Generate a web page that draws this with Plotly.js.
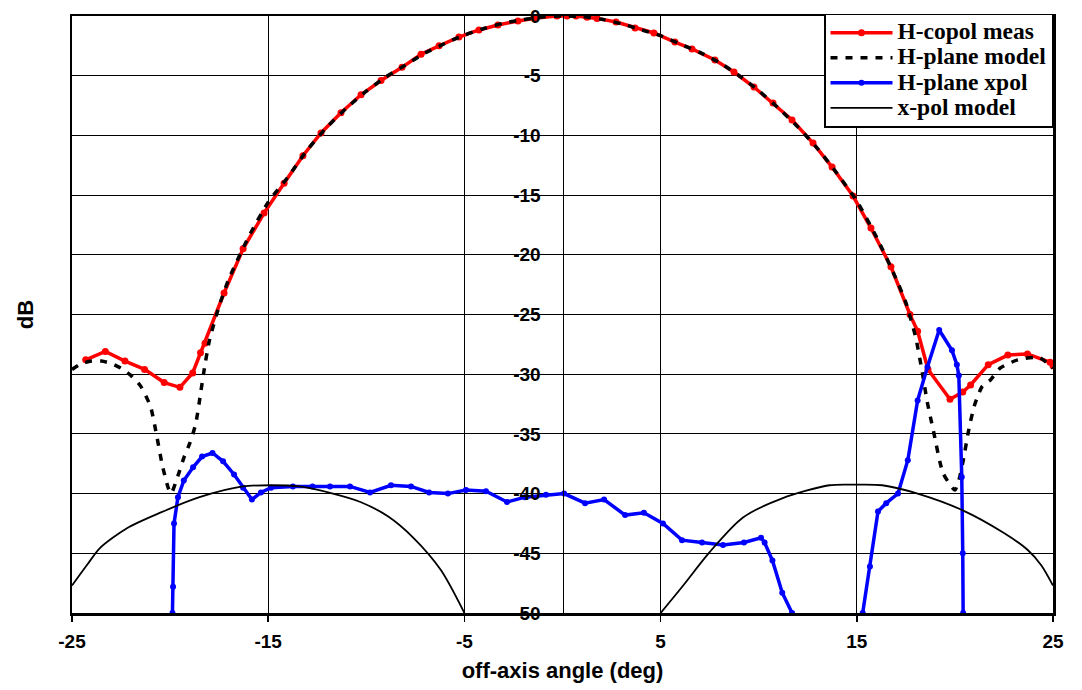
<!DOCTYPE html>
<html>
<head>
<meta charset="utf-8">
<script src="https://cdn.plot.ly/plotly-3.0.1.min.js"></script>
<style>html,body{margin:0;padding:0;background:#fff;}#chart{width:1082px;height:690px;}</style>
</head>
<body>
<div id="chart"></div>
<script>
// H-copol meas (red, with markers)
const copolX = [-24.3,-23.3,-22.3,-21.3,-20.3,-19.5,-18.85,-18.45,-18.22,-17.25,-16.28,-15.21,-14.19,-13.23,-12.31,-11.29,-10.27,-9.25,-8.18,-7.21,-6.29,-5.28,-4.26,-3.29,-2.27,-1.35,-0.28,0.23,0.69,1.25,1.76,2.73,3.70,4.66,5.73,6.60,7.77,8.74,9.76,10.73,11.70,12.77,13.74,14.81,15.72,16.74,17.71,18.1,18.63,19.75,20.4,20.8,21.7,22.7,23.7,24.85,25];
const copolY = [-28.8,-28.1,-28.9,-29.6,-30.7,-31.1,-29.9,-28.2,-27.4,-23.2,-19.5,-16.5,-14.0,-11.7,-9.8,-8.1,-6.6,-5.4,-4.3,-3.2,-2.5,-1.76,-1.17,-0.75,-0.42,-0.17,0,0,0,-0.1,-0.2,-0.5,-1.0,-1.42,-2.18,-2.76,-3.68,-4.69,-5.95,-7.29,-8.71,-10.64,-12.65,-15.08,-17.76,-21.0,-25.0,-26.4,-29.6,-32.1,-31.5,-30.9,-29.2,-28.4,-28.3,-29.0,-29.3];

// H-plane model (black dashed)
const modelX = [-25,-24.5,-24,-23.5,-23,-22.5,-22,-21.5,-21,-20.7,-20.4,-20.1,-19.95,-19.6,-19.3,-19.0,-18.7,-18.5,-18.3,-18,-17.5,-17,-16,-15,-14,-13,-12,-11,-10,-9,-8,-7,-6,-5,-4,-3,-2,-1,0,1,2,3,4,5,6,7,8,9,10,11,12,13,14,15,16,17,17.5,18,18.3,18.6,18.9,19.4,20.0,20.2,20.45,20.7,21.0,21.4,21.8,22.3,23.2,24.3,25];
const modelY = [-29.6,-29.1,-28.9,-28.9,-29.1,-29.5,-30.1,-31.0,-32.7,-35.0,-37.6,-39.5,-40.0,-38.5,-37.0,-35.8,-34.2,-32.2,-30.0,-27.2,-24.3,-22.0,-18.5,-15.6,-13.5,-11.2,-9.3,-7.7,-6.3,-5.1,-4.1,-3.1,-2.3,-1.6,-1.05,-0.6,-0.3,-0.08,0,-0.05,-0.28,-0.65,-1.15,-1.65,-2.35,-3.05,-3.9,-5.0,-6.25,-7.7,-9.3,-11.1,-13.2,-15.5,-18.5,-22.0,-24.0,-26.9,-29.5,-32.4,-34.7,-38.3,-39.7,-38.9,-37.0,-34.7,-32.6,-31.0,-30.5,-29.5,-28.8,-28.6,-29.5];

// H-plane xpol (blue, with markers)
const xpolX = [-19.88,-19.85,-19.8,-19.6,-19.3,-18.83,-18.37,-17.84,-17.3,-16.74,-16.28,-15.83,-15.37,-14.86,-13.74,-12.74,-11.85,-10.83,-9.81,-8.74,-7.72,-6.80,-5.84,-4.92,-3.90,-2.83,-1.91,-0.84,0.08,1.15,2.12,3.19,4.15,5.12,6.09,7.11,8.18,9.25,10.12,10.3,10.7,11.2,11.7,null,15.3,15.67,16.08,16.5,17.1,17.6,18.1,18.6,19.2,19.85,20.1,20.2,20.35,20.4,20.42];
const xpolY = [-50,-47.8,-42.5,-40.3,-38.9,-37.8,-36.9,-36.6,-37.3,-38.4,-39.5,-40.5,-39.9,-39.5,-39.4,-39.4,-39.4,-39.4,-39.9,-39.3,-39.4,-39.9,-40.0,-39.7,-39.8,-40.7,-40.3,-40.1,-40.0,-40.8,-40.5,-41.8,-41.6,-42.5,-43.9,-44.1,-44.3,-44.1,-43.7,-44.1,-45.6,-48.3,-50,null,-50,-46.1,-41.5,-40.8,-40.0,-37.2,-32.2,-29.4,-26.3,-28.0,-29.2,-30.1,-38.6,-45.0,-50];

// x-pol model (thin black)
const xpmX = [-25,-24.2,-23.6,-22.2,-20.5,-18.5,-16.3,-14.9,-13.4,-11.7,-10.3,-8.9,-7.6,-6.2,-5.0,null,5.0,6.1,7.5,9.2,11.2,13.6,14.9,16.3,18.1,20.4,22.5,23.7,24.4,25];
const xpmY = [-47.7,-45.9,-44.6,-42.9,-41.6,-40.3,-39.4,-39.3,-39.4,-40.0,-40.7,-41.9,-43.7,-46.4,-50,null,-50,-47.8,-44.9,-42.0,-40.4,-39.3,-39.25,-39.3,-40.0,-41.4,-43.3,-44.7,-46.0,-47.7];

const seriesNames = ['H-copol meas', 'H-plane model', 'H-plane xpol', 'x-pol model'];
const xTicks = [-25,-15,-5,5,15,25];
const yTicks = [0,-5,-10,-15,-20,-25,-30,-35,-40,-45,-50];

const big = s => '<span style="font-size:23.5px">' + s + '</span>';

const traces = [
  {x: copolX, y: copolY, name: big(seriesNames[0]), type: 'scatter', mode: 'lines+markers',
   line: {color: '#ff0000', width: 3.5}, marker: {color: '#ff0000', size: 7}},
  {x: modelX, y: modelY, name: big(seriesNames[1]), type: 'scatter', mode: 'lines',
   line: {color: '#000000', width: 3.5, dash: '7px,8px', shape: 'spline', smoothing: 0.6}},
  {x: xpolX, y: xpolY, name: big(seriesNames[2]), type: 'scatter', mode: 'lines+markers', connectgaps: false,
   line: {color: '#0000ff', width: 3.5}, marker: {color: '#0000ff', size: 6}},
  {x: xpmX, y: xpmY, name: big(seriesNames[3]), type: 'scatter', mode: 'lines', connectgaps: false, yaxis: 'y2',
   line: {color: '#000000', width: 1.8, shape: 'spline', smoothing: 0.8}}
];

const tickFont = {family: 'Liberation Sans, Arial, sans-serif', size: 19, color: '#000', weight: 'bold'};
const titleFont = {family: 'Liberation Sans, Arial, sans-serif', size: 22, color: '#000', weight: 'bold'};

const layout = {
  width: 1082, height: 690,
  margin: {l: 72, r: 29, t: 16, b: 77},
  paper_bgcolor: '#ffffff', plot_bgcolor: '#ffffff',
  showlegend: true,
  legend: {x: 1, xanchor: 'right', y: 1.004, yanchor: 'top', bgcolor: '#ffffff',
    bordercolor: '#000', borderwidth: 1.5, itemwidth: 62, tracegroupgap: 0,
    font: {family: 'Liberation Serif, Times New Roman, serif', size: 17, color: '#000', weight: 'bold'}},
  xaxis: {range: [-25, 25], tickvals: xTicks, ticktext: xTicks.map(String), showgrid: true, gridcolor: '#000', gridwidth: 1,
    zeroline: false, showline: true, mirror: true, linecolor: '#000', linewidth: 2.5,
    ticks: 'outside', ticklen: 6, tickwidth: 1.5, tickcolor: '#000', tickfont: tickFont, ticklabelstandoff: 4,
    title: {text: 'off-axis angle (deg)', font: titleFont, standoff: 12},
    automargin: false},
  yaxis: {range: [-50, 0], dtick: 5, showgrid: true, gridcolor: '#000', gridwidth: 1,
    zeroline: false, showline: true, mirror: true, linecolor: '#000', linewidth: 2.5,
    showticklabels: false, ticks: '',
    title: {text: 'dB', font: titleFont, standoff: 30},
    automargin: false},
  yaxis2: {overlaying: 'y', anchor: 'free', position: 0.5, side: 'left', range: [-50, 0],
    tickvals: yTicks, ticktext: yTicks.map(String),
    showgrid: false, zeroline: false, showline: true, linecolor: '#000', linewidth: 1.5,
    ticks: '', ticklabelstandoff: 18, tickfont: tickFont, automargin: false}
};

Plotly.newPlot('chart', traces, layout, {displayModeBar: false, staticPlot: true});
</script>
</body>
</html>
